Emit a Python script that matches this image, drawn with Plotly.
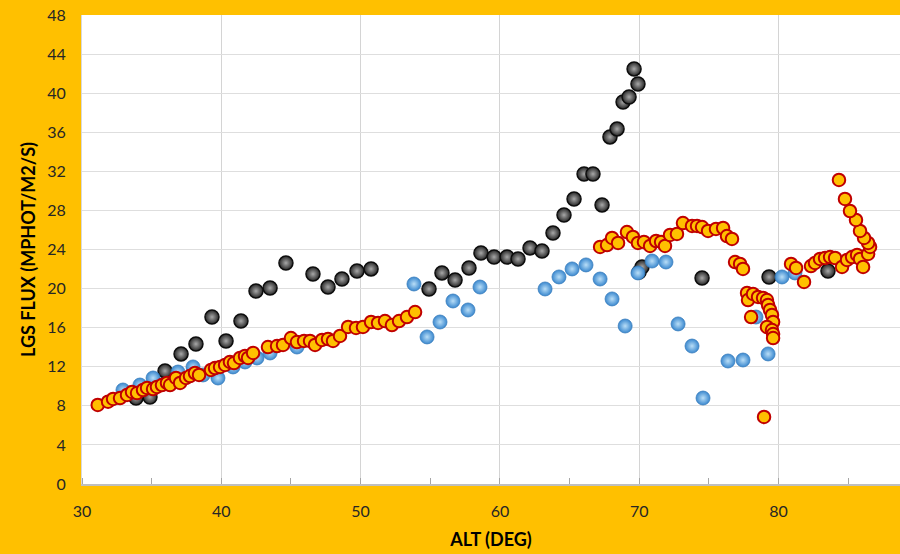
import plotly.graph_objects as go

# LGS return flux versus telescope altitude, three observing sets
alt_black = [33.88, 34.88, 35.96, 37.11, 38.18, 39.33, 40.34, 41.41, 42.49, 43.50,
             44.64, 46.58, 47.66, 48.66, 49.74, 50.75, 54.91, 55.84, 56.78, 57.78,
             58.64, 59.58, 60.51, 61.30, 62.16, 63.02, 63.81, 64.60, 65.32, 66.04,
             66.68, 67.33, 67.90, 68.41, 68.84, 69.27, 69.63, 69.91, 69.99, 70.20,
             74.51, 79.32, 83.55]
flux_black = [8.80, 8.90, 11.57, 13.31, 14.33, 17.09, 14.64, 16.68, 19.75, 20.06,
              22.62, 21.49, 20.16, 20.98, 21.80, 22.01, 19.96, 21.60, 20.88, 22.11,
              23.64, 23.23, 23.23, 23.03, 24.16, 23.85, 25.69, 27.53, 29.17, 31.73,
              31.73, 28.56, 35.52, 36.34, 39.10, 39.61, 42.48, 40.94, 21.70, 22.21,
              21.08, 21.19, 21.80]

alt_blue = [32.94, 34.16, 35.10, 36.89, 37.97, 38.69, 39.76, 40.84, 41.70, 42.56,
            43.50, 45.43, 53.83, 54.77, 55.70, 56.63, 57.71, 58.57, 63.24, 64.24,
            65.18, 66.18, 67.19, 68.05, 68.99, 69.91, 70.92, 71.92, 72.79, 73.79,
            74.58, 76.37, 77.45, 78.38, 79.25, 80.25, 81.18]
flux_blue = [9.62, 10.13, 10.85, 11.46, 11.98, 11.16, 10.85, 11.98, 12.49, 12.90,
             13.41, 14.02, 20.47, 15.05, 16.58, 18.73, 17.81, 20.16, 19.96, 21.19,
             22.01, 22.42, 20.98, 18.94, 16.17, 21.60, 22.82, 22.72, 16.38, 14.12,
             8.80, 12.59, 12.69, 17.09, 13.31, 21.19, 21.60]

alt_orange = [31.13, 31.87, 32.23, 32.73, 33.23, 33.59, 33.95, 34.38, 34.67, 35.10,
              35.38, 35.74, 36.10, 36.32, 36.75, 37.04, 37.47, 37.75, 38.11, 38.40,
              39.26, 39.55, 39.91, 40.27, 40.62, 40.91, 41.34, 41.70, 41.92, 42.28,
              43.35, 44.00, 44.43, 45.00, 45.43, 45.94, 46.37, 46.73, 47.23, 47.66,
              48.02, 48.52, 49.10, 49.67, 50.17, 50.75, 51.25, 51.75, 52.25, 52.76,
              53.33, 53.91,
              67.19, 67.69, 68.05, 68.48, 69.12, 69.55, 69.91, 70.34, 70.78, 71.21,
              71.57, 71.85, 72.21, 72.71, 73.14, 73.79, 74.15, 74.51, 74.94, 75.51,
              76.02, 76.30, 76.66, 76.88, 77.24, 77.45, 77.74, 77.81, 78.17, 78.53,
              78.89, 79.17, 79.25, 79.39, 79.53, 79.61, 79.17, 79.53, 79.61, 79.61,
              78.03, 78.96,
              80.90, 81.26, 81.83, 82.33, 82.62, 82.98, 83.34, 83.70, 84.06, 84.56,
              84.92, 85.28, 85.64, 85.85, 86.07, 86.43, 86.57, 86.43, 86.14, 85.85,
              85.56, 85.13, 84.77, 84.34]
flux_orange = [8.09, 8.42, 8.70, 8.80, 9.11, 9.42, 9.31, 9.62, 9.83, 9.72,
               9.93, 10.13, 10.34, 10.13, 10.85, 10.34, 10.85, 11.05, 11.36, 11.16,
               11.67, 11.87, 11.98, 12.18, 12.49, 12.38, 12.90, 13.10, 12.90, 13.41,
               14.02, 14.12, 14.23, 14.94, 14.53, 14.64, 14.64, 14.23, 14.74, 14.84,
               14.64, 15.15, 16.07, 15.97, 16.07, 16.58, 16.48, 16.68, 16.27, 16.68,
               17.09, 17.60,
               24.26, 24.46, 25.18, 24.67, 25.79, 25.28, 24.67, 24.77, 24.36, 24.87,
               24.77, 24.36, 25.49, 25.59, 26.71, 26.41, 26.41, 26.30, 25.90, 26.10,
               26.20, 25.38, 25.08, 22.72, 22.52, 22.01, 19.55, 18.83, 19.45, 19.14,
               19.04, 18.83, 18.32, 17.81, 17.30, 16.58, 16.07, 15.76, 15.35, 14.94,
               17.09, 6.86,
               22.52, 22.11, 20.68, 22.31, 22.62, 23.03, 23.13, 23.23, 23.13, 22.21,
               22.93, 23.23, 23.44, 23.03, 22.21, 23.54, 24.26, 24.67, 25.18, 25.90,
               27.02, 27.94, 29.17, 31.12]

x_ticks = [30, 40, 50, 60, 70, 80]
y_ticks = list(range(0, 49, 4))

BG = "#FFC000"
FONT = "Lato, 'Open Sans', sans-serif"

fig = go.Figure()

# radial gradient: gradient.color is the centre, marker.color the rim
fig.add_trace(go.Scatter(
    x=alt_black, y=flux_black, mode="markers", name="set A",
    marker=dict(size=14, color="#262626",
                gradient=dict(type="radial", color="#a8a8a8"),
                line=dict(color="#0d0d0d", width=1.5)),
))
fig.add_trace(go.Scatter(
    x=alt_blue, y=flux_blue, mode="markers", name="set B",
    marker=dict(size=14, color="#3a88cf",
                gradient=dict(type="radial", color="#b9def7"),
                line=dict(color="#3a7dbd", width=0.8)),
))
fig.add_trace(go.Scatter(
    x=alt_orange, y=flux_orange, mode="markers", name="set C",
    marker=dict(size=12.5, color="#FFC000",
                line=dict(color="#C00000", width=2)),
))

fig.update_layout(
    width=900, height=554,
    margin=dict(l=82, r=0, t=15, b=70),
    paper_bgcolor=BG, plot_bgcolor="white",
    showlegend=False,
    font=dict(family=FONT, size=16, color="#262626"),
)
fig.update_xaxes(
    range=[30, 88.72], tickvals=x_ticks,
    showgrid=True, gridcolor="#d4d4d4", gridwidth=1,
    showline=True, linecolor="#bfbfbf", linewidth=2,
    ticks="outside", ticklen=12, tickcolor=BG,
    minor=dict(dtick=5, ticks="inside", ticklen=6, tickcolor="#a6a6a6", showgrid=False),
    zeroline=False,
    title=dict(text="<b>ALT (DEG)</b>", font=dict(size=18, family=FONT, color="#000000"),
               standoff=14),
)
fig.update_yaxes(
    range=[0, 48], tickvals=y_ticks,
    showgrid=True, gridcolor="#dedede", gridwidth=1,
    showline=True, linecolor="#d9d9d9", linewidth=1,
    ticks="outside", ticklen=12, tickcolor=BG,
    zeroline=False,
    title=dict(text="<b>LGS FLUX (MPHOT/M2/S)</b>", font=dict(size=18, family=FONT, color="#000000"),
               standoff=6),
)

fig.write_html("out.html")
